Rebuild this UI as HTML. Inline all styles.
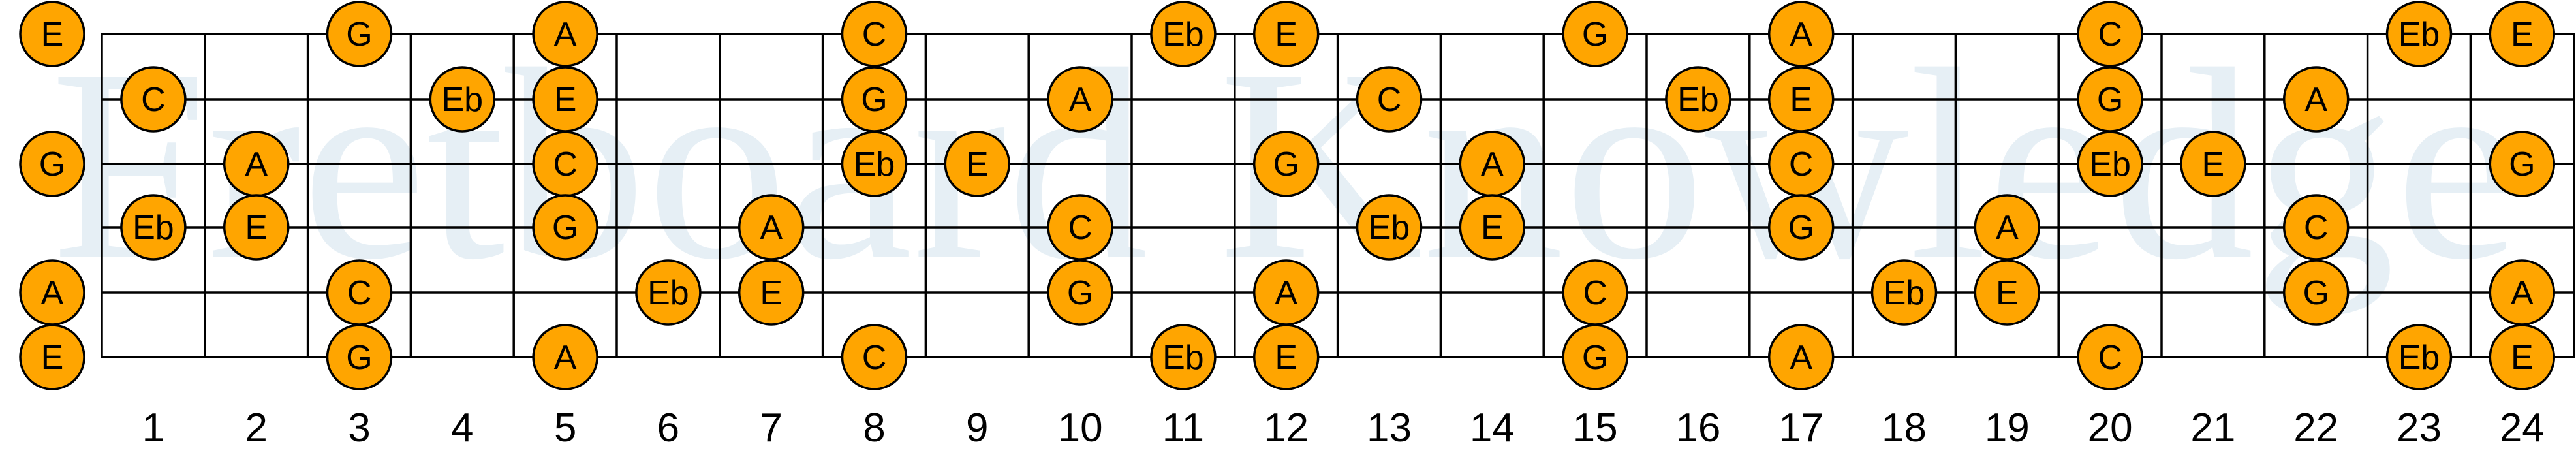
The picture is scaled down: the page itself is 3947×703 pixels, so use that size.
<!DOCTYPE html>
<html><head><meta charset="utf-8"><style>
html,body{margin:0;padding:0;background:#fff;width:3947px;height:703px;overflow:hidden}
svg{display:block}
.n circle{fill:#FFA500;stroke:#000;stroke-width:3.5}
.n text{font-family:"Liberation Sans",sans-serif;font-size:52px;text-anchor:middle;fill:#000}
.num{font-family:"Liberation Sans",sans-serif;font-size:62px;text-anchor:middle;fill:#000}
</style></head><body>
<svg width="3947" height="703" viewBox="0 0 3947 703" xmlns="http://www.w3.org/2000/svg">
<text x="77" y="393" font-family="Liberation Serif,serif" font-size="420" fill="#e6eff5" textLength="3785" lengthAdjust="spacingAndGlyphs">Fretboard Knowledge</text>
<g stroke="#000" stroke-width="3.5" fill="none">
<rect x="156" y="52" width="3788" height="495"/>
<path d="M156 152H3944M156 251H3944M156 348H3944M156 448H3944"/>
<path d="M313.8 52V547M471.6 52V547M629.4 52V547M787.2 52V547M945 52V547M1102.8 52V547M1260.6 52V547M1418.4 52V547M1576.2 52V547M1734 52V547M1891.8 52V547M2049.6 52V547M2207.4 52V547M2365.2 52V547M2523 52V547M2680.8 52V547M2838.6 52V547M2996.4 52V547M3154.2 52V547M3312 52V547M3469.8 52V547M3627.6 52V547M3785.4 52V547"/>
</g>
<g class="num">
<text x="234.9" y="676">1</text><text x="392.7" y="676">2</text><text x="550.5" y="676">3</text><text x="708.3" y="676">4</text><text x="866.1" y="676">5</text><text x="1023.9" y="676">6</text><text x="1181.7" y="676">7</text><text x="1339.5" y="676">8</text><text x="1497.3" y="676">9</text><text x="1655.1" y="676">10</text><text x="1812.9" y="676">11</text><text x="1970.7" y="676">12</text><text x="2128.5" y="676">13</text><text x="2286.3" y="676">14</text><text x="2444.1" y="676">15</text><text x="2601.9" y="676">16</text><text x="2759.7" y="676">17</text><text x="2917.5" y="676">18</text><text x="3075.3" y="676">19</text><text x="3233.1" y="676">20</text><text x="3390.9" y="676">21</text><text x="3548.7" y="676">22</text><text x="3706.5" y="676">23</text><text x="3864.3" y="676">24</text>
</g>
<g class="n">
<!-- open -->
<g transform="translate(80,52)"><circle r="49"/><text y="18">E</text></g>
<g transform="translate(80,251)"><circle r="49"/><text y="18">G</text></g>
<g transform="translate(80,448)"><circle r="49"/><text y="18">A</text></g>
<g transform="translate(80,547)"><circle r="49"/><text y="18">E</text></g>
<!-- 1 -->
<g transform="translate(234.9,152)"><circle r="49"/><text y="18">C</text></g>
<g transform="translate(234.9,348)"><circle r="49"/><text y="18">Eb</text></g>
<!-- 2 -->
<g transform="translate(392.7,251)"><circle r="49"/><text y="18">A</text></g>
<g transform="translate(392.7,348)"><circle r="49"/><text y="18">E</text></g>
<!-- 3 -->
<g transform="translate(550.5,52)"><circle r="49"/><text y="18">G</text></g>
<g transform="translate(550.5,448)"><circle r="49"/><text y="18">C</text></g>
<g transform="translate(550.5,547)"><circle r="49"/><text y="18">G</text></g>
<!-- 4 -->
<g transform="translate(708.3,152)"><circle r="49"/><text y="18">Eb</text></g>
<!-- 5 -->
<g transform="translate(866.1,52)"><circle r="49"/><text y="18">A</text></g>
<g transform="translate(866.1,152)"><circle r="49"/><text y="18">E</text></g>
<g transform="translate(866.1,251)"><circle r="49"/><text y="18">C</text></g>
<g transform="translate(866.1,348)"><circle r="49"/><text y="18">G</text></g>
<g transform="translate(866.1,547)"><circle r="49"/><text y="18">A</text></g>
<!-- 6 -->
<g transform="translate(1023.9,448)"><circle r="49"/><text y="18">Eb</text></g>
<!-- 7 -->
<g transform="translate(1181.7,348)"><circle r="49"/><text y="18">A</text></g>
<g transform="translate(1181.7,448)"><circle r="49"/><text y="18">E</text></g>
<!-- 8 -->
<g transform="translate(1339.5,52)"><circle r="49"/><text y="18">C</text></g>
<g transform="translate(1339.5,152)"><circle r="49"/><text y="18">G</text></g>
<g transform="translate(1339.5,251)"><circle r="49"/><text y="18">Eb</text></g>
<g transform="translate(1339.5,547)"><circle r="49"/><text y="18">C</text></g>
<!-- 9 -->
<g transform="translate(1497.3,251)"><circle r="49"/><text y="18">E</text></g>
<!-- 10 -->
<g transform="translate(1655.1,152)"><circle r="49"/><text y="18">A</text></g>
<g transform="translate(1655.1,348)"><circle r="49"/><text y="18">C</text></g>
<g transform="translate(1655.1,448)"><circle r="49"/><text y="18">G</text></g>
<!-- 11 -->
<g transform="translate(1812.9,52)"><circle r="49"/><text y="18">Eb</text></g>
<g transform="translate(1812.9,547)"><circle r="49"/><text y="18">Eb</text></g>
<!-- 12 -->
<g transform="translate(1970.7,52)"><circle r="49"/><text y="18">E</text></g>
<g transform="translate(1970.7,251)"><circle r="49"/><text y="18">G</text></g>
<g transform="translate(1970.7,448)"><circle r="49"/><text y="18">A</text></g>
<g transform="translate(1970.7,547)"><circle r="49"/><text y="18">E</text></g>
<!-- 13 -->
<g transform="translate(2128.5,152)"><circle r="49"/><text y="18">C</text></g>
<g transform="translate(2128.5,348)"><circle r="49"/><text y="18">Eb</text></g>
<!-- 14 -->
<g transform="translate(2286.3,251)"><circle r="49"/><text y="18">A</text></g>
<g transform="translate(2286.3,348)"><circle r="49"/><text y="18">E</text></g>
<!-- 15 -->
<g transform="translate(2444.1,52)"><circle r="49"/><text y="18">G</text></g>
<g transform="translate(2444.1,448)"><circle r="49"/><text y="18">C</text></g>
<g transform="translate(2444.1,547)"><circle r="49"/><text y="18">G</text></g>
<!-- 16 -->
<g transform="translate(2601.9,152)"><circle r="49"/><text y="18">Eb</text></g>
<!-- 17 -->
<g transform="translate(2759.7,52)"><circle r="49"/><text y="18">A</text></g>
<g transform="translate(2759.7,152)"><circle r="49"/><text y="18">E</text></g>
<g transform="translate(2759.7,251)"><circle r="49"/><text y="18">C</text></g>
<g transform="translate(2759.7,348)"><circle r="49"/><text y="18">G</text></g>
<g transform="translate(2759.7,547)"><circle r="49"/><text y="18">A</text></g>
<!-- 18 -->
<g transform="translate(2917.5,448)"><circle r="49"/><text y="18">Eb</text></g>
<!-- 19 -->
<g transform="translate(3075.3,348)"><circle r="49"/><text y="18">A</text></g>
<g transform="translate(3075.3,448)"><circle r="49"/><text y="18">E</text></g>
<!-- 20 -->
<g transform="translate(3233.1,52)"><circle r="49"/><text y="18">C</text></g>
<g transform="translate(3233.1,152)"><circle r="49"/><text y="18">G</text></g>
<g transform="translate(3233.1,251)"><circle r="49"/><text y="18">Eb</text></g>
<g transform="translate(3233.1,547)"><circle r="49"/><text y="18">C</text></g>
<!-- 21 -->
<g transform="translate(3390.9,251)"><circle r="49"/><text y="18">E</text></g>
<!-- 22 -->
<g transform="translate(3548.7,152)"><circle r="49"/><text y="18">A</text></g>
<g transform="translate(3548.7,348)"><circle r="49"/><text y="18">C</text></g>
<g transform="translate(3548.7,448)"><circle r="49"/><text y="18">G</text></g>
<!-- 23 -->
<g transform="translate(3706.5,52)"><circle r="49"/><text y="18">Eb</text></g>
<g transform="translate(3706.5,547)"><circle r="49"/><text y="18">Eb</text></g>
<!-- 24 -->
<g transform="translate(3864.3,52)"><circle r="49"/><text y="18">E</text></g>
<g transform="translate(3864.3,251)"><circle r="49"/><text y="18">G</text></g>
<g transform="translate(3864.3,448)"><circle r="49"/><text y="18">A</text></g>
<g transform="translate(3864.3,547)"><circle r="49"/><text y="18">E</text></g>
</g>
</svg>
</body></html>
